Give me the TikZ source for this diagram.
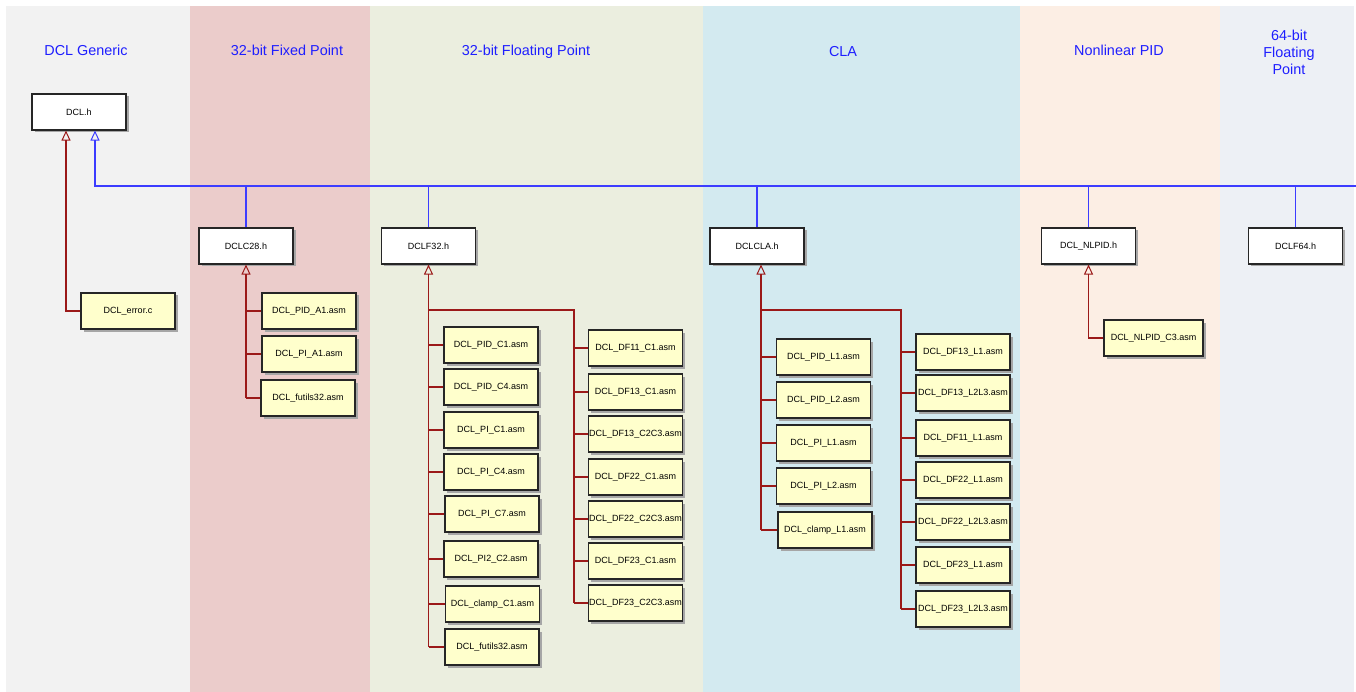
\documentclass[tikz,border=0pt]{standalone}
\usepackage{fontspec}
\setmainfont{Liberation Sans}
\usetikzlibrary{arrows.meta,shadows}

\definecolor{bandgen}{HTML}{F2F2F2}
\definecolor{bandfix}{HTML}{EBCCCB}
\definecolor{bandflt}{HTML}{EBEEDF}
\definecolor{bandcla}{HTML}{D3EAF0}
\definecolor{bandnl}{HTML}{FCEEE4}
\definecolor{bandsixf}{HTML}{EDF0F5}
\definecolor{headblue}{HTML}{1E1EFF}
\definecolor{busblue}{HTML}{3C3CFF}
\definecolor{depred}{HTML}{9B1919}
\definecolor{fileyellow}{HTML}{FFFFCC}

\tikzset{
  hdr/.style={text=headblue, font=\fontsize{14.4}{17}\selectfont, align=center},
  hfile/.style={draw=black!85, line width=1.1pt, fill=white, minimum width=94pt,
    minimum height=36pt, inner sep=0pt, font=\fontsize{9}{11}\selectfont,
    drop shadow={shadow xshift=2.5pt, shadow yshift=-2.5pt, fill=black!35, opacity=1}},
  afile/.style={hfile, fill=fileyellow},
  dep/.style={draw=depred, line width=1.3pt},
  bus/.style={draw=busblue, line width=1.3pt},
  inh/.style={-{Triangle[open, length=10pt, width=9pt, line width=1pt]}}
}

\begin{document}
\begin{tikzpicture}[x=1pt, y=-1pt]
\useasboundingbox (0,0) rectangle (1356,692);

\foreach \xa/\xb/\c in {6/190/bandgen, 190/370/bandfix, 370/703/bandflt,
	703/1020/bandcla, 1020/1220/bandnl, 1220/1354/bandsixf} {
    \fill[\c] (\xa,6) rectangle (\xb,692);
}

\node[hdr] (hgen) at (86,50) {DCL Generic};
\node[hdr] (hfix) at (287,50) {32-bit Fixed Point};
\node[hdr] (hflt) at (526,52) {32-bit Floating Point};
\node[hdr] (hcla) at (843,52) {CLA};
\node[hdr] (hnl) at (1119,50) {Nonlinear PID};
\node[hdr] (hsixf) at (1289,52) {64-bit\\Floating\\Point};

\node[hfile] (dclh) at (79,112) {DCL.h};
\node[hfile] (c28) at (246,246) {DCLC28.h};
\node[hfile] (f32) at (428.5,246) {DCLF32.h};
\node[hfile] (cla) at (757,246) {DCLCLA.h};
\node[hfile] (nlpid) at (1088.5,246) {DCL\_NLPID.h};
\node[hfile] (f64) at (1295.5,246) {DCLF64.h};

\node[afile] (err) at (128,311) {DCL\_error.c};

\node[afile] (pida) at (309,311) {DCL\_PID\_A1.asm};
\node[afile] (pia) at (309,354) {DCL\_PI\_A1.asm};
\node[afile] (futa) at (308,398) {DCL\_futils32.asm};

\node[afile] (pidc1) at (491,345) {DCL\_PID\_C1.asm};
\node[afile] (pidc4) at (491,387) {DCL\_PID\_C4.asm};
\node[afile] (pic1) at (491,430) {DCL\_PI\_C1.asm};
\node[afile] (pic4) at (491,472) {DCL\_PI\_C4.asm};
\node[afile] (pic7) at (492,514) {DCL\_PI\_C7.asm};
\node[afile] (pitwoc2) at (491,559) {DCL\_PI2\_C2.asm};
\node[afile] (clampc1) at (492.5,604) {DCL\_clamp\_C1.asm};
\node[afile] (futc) at (492,647) {DCL\_futils32.asm};

\node[afile] (dfac1) at (635.5,348) {DCL\_DF11\_C1.asm};
\node[afile] (dfbc1) at (635.5,392) {DCL\_DF13\_C1.asm};
\node[afile] (dfbc23) at (635.5,434) {DCL\_DF13\_C2C3.asm};
\node[afile] (dfcc1) at (635.5,477) {DCL\_DF22\_C1.asm};
\node[afile] (dfcc23) at (635.5,519) {DCL\_DF22\_C2C3.asm};
\node[afile] (dfdc1) at (635.5,561) {DCL\_DF23\_C1.asm};
\node[afile] (dfdc23) at (635.5,603) {DCL\_DF23\_C2C3.asm};

\node[afile] (pidl1) at (823.5,357) {DCL\_PID\_L1.asm};
\node[afile] (pidl2) at (823.5,400) {DCL\_PID\_L2.asm};
\node[afile] (pil1) at (823.5,443) {DCL\_PI\_L1.asm};
\node[afile] (pil2) at (823.5,486) {DCL\_PI\_L2.asm};
\node[afile] (clampl1) at (825,530) {DCL\_clamp\_L1.asm};

\node[afile] (dfbl1) at (963,352) {DCL\_DF13\_L1.asm};
\node[afile] (dfbl23) at (963,393) {DCL\_DF13\_L2L3.asm};
\node[afile] (dfal1) at (963,438) {DCL\_DF11\_L1.asm};
\node[afile] (dfcl1) at (963,480) {DCL\_DF22\_L1.asm};
\node[afile] (dfcl23) at (963,522) {DCL\_DF22\_L2L3.asm};
\node[afile] (dfdl1) at (963,565) {DCL\_DF23\_L1.asm};
\node[afile] (dfdl23) at (963,609) {DCL\_DF23\_L2L3.asm};

\node[afile, minimum width=99pt] (nlc3) at (1153.5,338) {DCL\_NLPID\_C3.asm};

\coordinate (busend) at (1356,186);
\coordinate (busstart) at ([xshift=16pt]dclh.south |- busend);
\coordinate (errfoot) at ([xshift=-13pt]dclh.south);
\coordinate (fltsplit) at (574,310);
\coordinate (clafoot) at ([xshift=4pt]cla.south);
\coordinate (clasplit) at (901,310);

\draw[bus, inh] (busend) -- (busstart) -- ([xshift=16pt]dclh.south);
\foreach \n in {c28, f32, cla, nlpid, f64} {
    \draw[bus] (\n.north) -- (\n.north |- busend);
}

\draw[dep, inh] (err.west) -| (errfoot);

\draw[dep, inh] (c28.south |- futa.west) -- (c28.south);
\foreach \b in {pida, pia, futa} {
    \draw[dep] (c28.south |- \b.west) -- (\b.west);
}

\draw[dep, inh] (f32.south |- futc.west) -- (f32.south);
\foreach \b in {pidc1, pidc4, pic1, pic4, pic7, pitwoc2, clampc1, futc} {
    \draw[dep] (f32.south |- \b.west) -- (\b.west);
}
\draw[dep] (f32.south |- fltsplit) -- (fltsplit) -- (fltsplit |- dfdc23.west);
\foreach \b in {dfac1, dfbc1, dfbc23, dfcc1, dfcc23, dfdc1, dfdc23} {
    \draw[dep] (fltsplit |- \b.west) -- (\b.west);
}

\draw[dep, inh] (clafoot |- clampl1.west) -- (clafoot);
\foreach \b in {pidl1, pidl2, pil1, pil2, clampl1} {
    \draw[dep] (clafoot |- \b.west) -- (\b.west);
}
\draw[dep] (clafoot |- clasplit) -- (clasplit) -- (clasplit |- dfdl23.west);
\foreach \b in {dfbl1, dfbl23, dfal1, dfcl1, dfcl23, dfdl1, dfdl23} {
    \draw[dep] (clasplit |- \b.west) -- (\b.west);
}

\draw[dep, inh] (nlc3.west) -| (nlpid.south);
\end{tikzpicture}
\end{document}
